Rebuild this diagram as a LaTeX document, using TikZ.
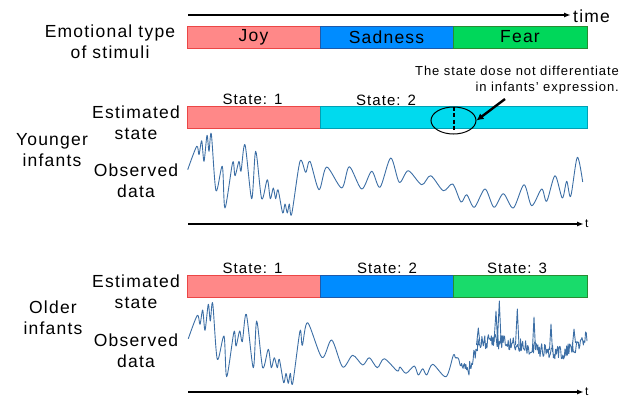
\documentclass[tikz,border=0pt]{standalone}
\usepackage{fontspec}
\setmainfont{Liberation Sans}[LetterSpace=7]
\usetikzlibrary{arrows.meta,shapes.geometric}

\definecolor{joyred}{RGB}{255,136,136}
\definecolor{joyline}{RGB}{235,70,70}
\definecolor{sadblue}{RGB}{0,140,255}
\definecolor{sadline}{RGB}{30,90,170}
\definecolor{feargreen}{RGB}{0,215,90}
\definecolor{fearline}{RGB}{40,140,50}
\definecolor{statecyan}{RGB}{0,218,238}
\definecolor{cyanline}{RGB}{0,160,180}
\definecolor{wave}{RGB}{60,110,165}

\tikzset{
  bar/.style={draw, line width=0.8pt, minimum height=22pt, inner sep=0pt, font=\fontsize{17.5}{21}\selectfont},
  lbl/.style={align=center, inner sep=0pt, font=\fontsize{17.5}{21}\selectfont},
  statelbl/.style={inner sep=0pt, font=\fontsize{15}{18}\selectfont},
  signal/.style={wave, line width=0.9pt, line join=round},
  axis/.style={line width=1.5pt, -{Latex[length=7pt,width=5pt]}},
}

\begin{document}
\begin{tikzpicture}[x=1pt,y=-1pt]
\useasboundingbox (0,0) rectangle (635,397);
\pgfmathsetseed{11}

% stimuli
\coordinate (t0) at (188,15);
\coordinate (t1) at (571,15);
\draw[axis, line width=2pt] (t0) -- (t1);
\node[lbl, anchor=west] (time) at (573,16) {time};
\node[lbl] (emo) at (110,42) {Emotional type\\of stimuli};
\node[bar, fill=joyred, draw=joyline, minimum width=133pt] (joy) at (253.5,37) {Joy};
\node[bar, fill=sadblue, draw=sadline, minimum width=133pt] (sad) at (386.5,37) {Sadness};
\node[bar, fill=feargreen, draw=fearline, minimum width=134pt] (fear) at (520,37) {Fear};

% younger infants
\node[lbl] (young) at (52,150) {Younger\\infants};
\node[lbl] (yest) at (136,122.5) {Estimated\\state};
\node[lbl] (yobs) at (136,181) {Observed\\data};
\node[bar, fill=joyred, draw=joyline, minimum width=133pt] (ys1) at (253.5,117) {};
\node[bar, fill=statecyan, draw=cyanline, minimum width=267pt] (ys2) at (453.5,117) {};
\node[statelbl] (ys1lbl) at (252.5,99) {State: 1};
\node[statelbl] (ys2lbl) at (386,100) {State: 2};
\node[draw, ellipse, line width=1pt, minimum width=45pt, minimum height=27pt, inner sep=0pt] (ring) at (453.5,120.5) {};
\draw[line width=2pt, dash pattern=on 4pt off 2.5pt] (ring.north) -- ([yshift=3pt]ring.south);
\node[anchor=east, align=right, inner sep=0pt, font=\fontsize{13}{16}\selectfont] (note) at (619,80)
  {The state dose not differentiate\\in infants' expression.};
\coordinate (ptr) at (505,99);
\draw[line width=2.4pt, -{Latex[length=7pt,width=7pt]}] (ptr) -- (ring.east);
\draw[signal] plot[smooth] coordinates {(187.7,169.7) (196.7,146.3) (199,154.7) (201.7,140.7) (204,161.3)
  (207,135.3) (209,151.3) (211.3,134) (216,190.7) (222.3,166.3) (225,208) (232.7,162.3) (235,175.7)
  (239,161.3) (241,171.3) (245,144.7) (251.7,198.7) (255.7,151.3) (261.7,198.7) (267.3,179.7)
  (270.3,198.7) (273.3,188) (275.7,198.7) (278,189.7) (282.7,213) (285,204) (287.3,213) (289.3,204)
  (291.7,214) (300,161.3) (305.7,172.3) (310,161.3) (319,189.7) (326.7,167) (341.7,188) (349.3,166.7)
  (361.7,189) (371.7,171.3) (380,187.3) (390.7,158) (399.3,182.3) (408.3,170.7) (421.7,184.7)
  (430.7,175.7) (443.3,190.7) (452.7,184) (461,202) (466.7,194.7) (474.3,207.3) (485,189) (494,207.3)
  (503.3,193.7) (513.3,208) (524,184.7) (531.7,205.7) (541.7,189) (546.7,201.3) (555,175.7)
  (562.3,198) (566.7,181.3) (570.7,196.3) (577.3,157.3) (582.7,182)};
\coordinate (ya0) at (188,224);
\coordinate (ya1) at (584,224);
\draw[axis] (ya0) -- (ya1);
\node[anchor=west, inner sep=1pt, font=\fontsize{12}{14}\selectfont] (yt) at (ya1) {t};

% older infants
\node[lbl] (old) at (53,318) {Older\\infants};
\node[lbl] (oest) at (136,292) {Estimated\\state};
\node[lbl] (oobs) at (136,351) {Observed\\data};
\node[bar, fill=joyred, draw=joyline, minimum width=133pt] (os1) at (253.5,286) {};
\node[bar, fill=sadblue, draw=sadline, minimum width=133pt] (os2) at (386.5,286) {};
\node[bar, fill=feargreen!90!white, draw=fearline, minimum width=134pt] (os3) at (520,286) {};
\node[statelbl] (os1lbl) at (252.5,268) {State: 1};
\node[statelbl] (os2lbl) at (387,268) {State: 2};
\node[statelbl] (os3lbl) at (517,268) {State: 3};
\draw[signal] plot[smooth] coordinates {(188.3,338.7) (197.3,315.3) (200,324.3) (202.7,310) (205,330.3)
  (208.3,304.3) (210.3,321) (212.7,303.3) (217.3,359.3) (224,336) (226.7,376.7) (234,331.7) (236,346)
  (239.7,331) (242.3,341.7) (246.3,314.3) (253.3,367.7) (256.7,321) (262.7,367.7) (268.3,349.3)
  (271.3,367.7) (274.3,357.7) (277.3,367.7) (279.3,359.3) (283.7,382.7) (286,373.3) (288.3,383.3)
  (290.3,373.3) (292.7,383.3) (300,331) (302.3,345.3) (307.7,322.7) (322,357.5) (331.7,340)
  (342.7,367) (352.7,355.3) (362.7,365) (369.3,357.7) (377.3,367.7) (384.3,358.7) (397.3,371) (400,367)
  (406,373.3) (414.3,366) (418.3,375) (422.7,368.7) (426.7,375) (432.7,364.3) (446,376.7)
  (453.3,355.3) (455,357)};
\draw[signal] (455,357)
  -- plot[domain=456:468, samples=18] (\x,{357+(\x-455)+4*rand})
  -- plot[domain=469:478, samples=14] (\x,{370-(\x-469)*2.8+8*rand})
  -- plot[domain=479:500, samples=30] (\x,{342+8*rand})
  -- plot[domain=501:540, samples=55] (\x,{342+(\x-501)*0.2+7*rand})
  -- plot[domain=541:565, samples=34] (\x,{350+(\x-541)*0.15+7*rand})
  -- plot[domain=566:587, samples=30] (\x,{352-(\x-566)*0.65+8*rand});
\draw[signal] (476.5,345) -- (478.3,328) -- (480,344);
\draw[signal] (494,342) -- (496,311) -- (497.5,340) -- (499.3,301) -- (501,340);
\draw[signal] (515.5,345) -- (517.3,309) -- (519,346);
\draw[signal] (532.5,348) -- (534,317) -- (535.5,350);
\draw[signal] (549.5,350) -- (551,324) -- (552.5,352);
\draw[signal] (572.5,345) -- (574,329) -- (575.5,343);
\coordinate (oa0) at (188,392);
\coordinate (oa1) at (584,392);
\draw[axis] (oa0) -- (oa1);
\node[anchor=west, inner sep=1pt, font=\fontsize{12}{14}\selectfont] (ot) at (oa1) {t};
\end{tikzpicture}
\end{document}
